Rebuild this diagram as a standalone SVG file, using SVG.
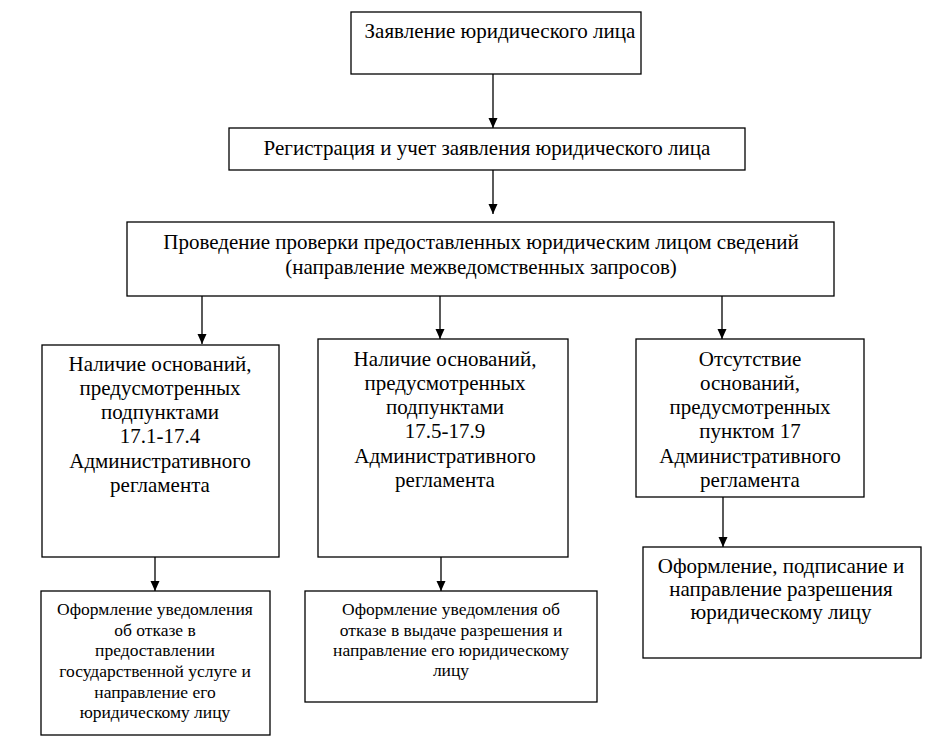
<svg xmlns="http://www.w3.org/2000/svg" width="945" height="745" viewBox="0 0 945 745" font-family="Liberation Serif, serif">
<defs>
<marker id="arr" markerWidth="10" markerHeight="10" refX="10" refY="4.5" orient="auto" markerUnits="userSpaceOnUse" viewBox="0 0 10 9">
<path d="M0,0 L10,4.5 L0,9 Z" fill="#000"/>
</marker>
</defs>
<style>
rect{fill:#fff;stroke:#000;stroke-width:1.3}
text{font-family:'Liberation Serif','Times New Roman',serif;fill:#000;text-anchor:middle}
.l{font-size:21px}
.m{font-size:21px}
.s{font-size:17.5px}
.c line{stroke:#000;stroke-width:1.3;marker-end:url(#arr)}
</style>
<rect x="0" y="0" width="945" height="745" style="stroke:none"/>
<g class="c" id="connectors">
<line x1="493" y1="74" x2="493" y2="128"/>
<line x1="493" y1="170" x2="493" y2="214"/>
<line x1="202" y1="296" x2="202" y2="344"/>
<line x1="440" y1="296" x2="440" y2="339"/>
<line x1="722" y1="296" x2="722" y2="339"/>
<line x1="723" y1="497" x2="723" y2="547"/>
<line x1="155" y1="557" x2="155" y2="591"/>
<line x1="441" y1="557" x2="441" y2="591"/>
</g>
<g id="n1"><rect x="351" y="12" width="290" height="62"/><text class="l" x="500" y="38">Заявление юридического лица</text></g>
<g id="n2"><rect x="229" y="128" width="516" height="42"/><text class="l" x="487" y="155">Регистрация и учет заявления юридического лица</text></g>
<g id="n3"><rect x="127" y="222" width="707" height="74"/><text class="l" x="481" y="249">Проведение проверки предоставленных юридическим лицом сведений</text><text class="l" x="481" y="274">(направление межведомственных запросов)</text></g>
<g id="n4"><rect x="42" y="345" width="237" height="212"/>
<text class="m" x="160" y="371">Наличие оснований,</text>
<text class="m" x="160" y="395">предусмотренных</text>
<text class="m" x="160" y="419">подпунктами</text>
<text class="m" x="160" y="443">17.1-17.4</text>
<text class="m" x="160" y="468">Административного</text>
<text class="m" x="160" y="492">регламента</text></g>
<g id="n5"><rect x="318" y="339" width="250" height="218"/>
<text class="m" x="445" y="366">Наличие оснований,</text>
<text class="m" x="445" y="390">предусмотренных</text>
<text class="m" x="445" y="414">подпунктами</text>
<text class="m" x="445" y="438">17.5-17.9</text>
<text class="m" x="445" y="463">Административного</text>
<text class="m" x="445" y="487">регламента</text></g>
<g id="n6"><rect x="636" y="339" width="228" height="158"/>
<text class="m" x="750" y="366">Отсутствие</text>
<text class="m" x="750" y="390">оснований,</text>
<text class="m" x="750" y="414">предусмотренных</text>
<text class="m" x="750" y="438">пунктом 17</text>
<text class="m" x="750" y="463">Административного</text>
<text class="m" x="750" y="487">регламента</text></g>
<g id="n7"><rect x="41" y="591" width="229" height="144"/>
<text class="s" x="155" y="615">Оформление уведомления</text>
<text class="s" x="155" y="636">об отказе в</text>
<text class="s" x="155" y="656">предоставлении</text>
<text class="s" x="155" y="677">государственной услуге и</text>
<text class="s" x="155" y="698">направление его</text>
<text class="s" x="155" y="718">юридическому лицу</text></g>
<g id="n8"><rect x="305" y="591" width="292" height="111"/>
<text class="s" x="451" y="615">Оформление уведомления об</text>
<text class="s" x="451" y="636">отказе в выдаче разрешения и</text>
<text class="s" x="451" y="656">направление его юридическому</text>
<text class="s" x="451" y="676">лицу</text></g>
<g id="n9"><rect x="643" y="547" width="278" height="111"/>
<text class="l" x="781" y="573">Оформление, подписание и</text>
<text class="l" x="781" y="596">направление разрешения</text>
<text class="l" x="781" y="619">юридическому лицу</text></g>
</svg>
